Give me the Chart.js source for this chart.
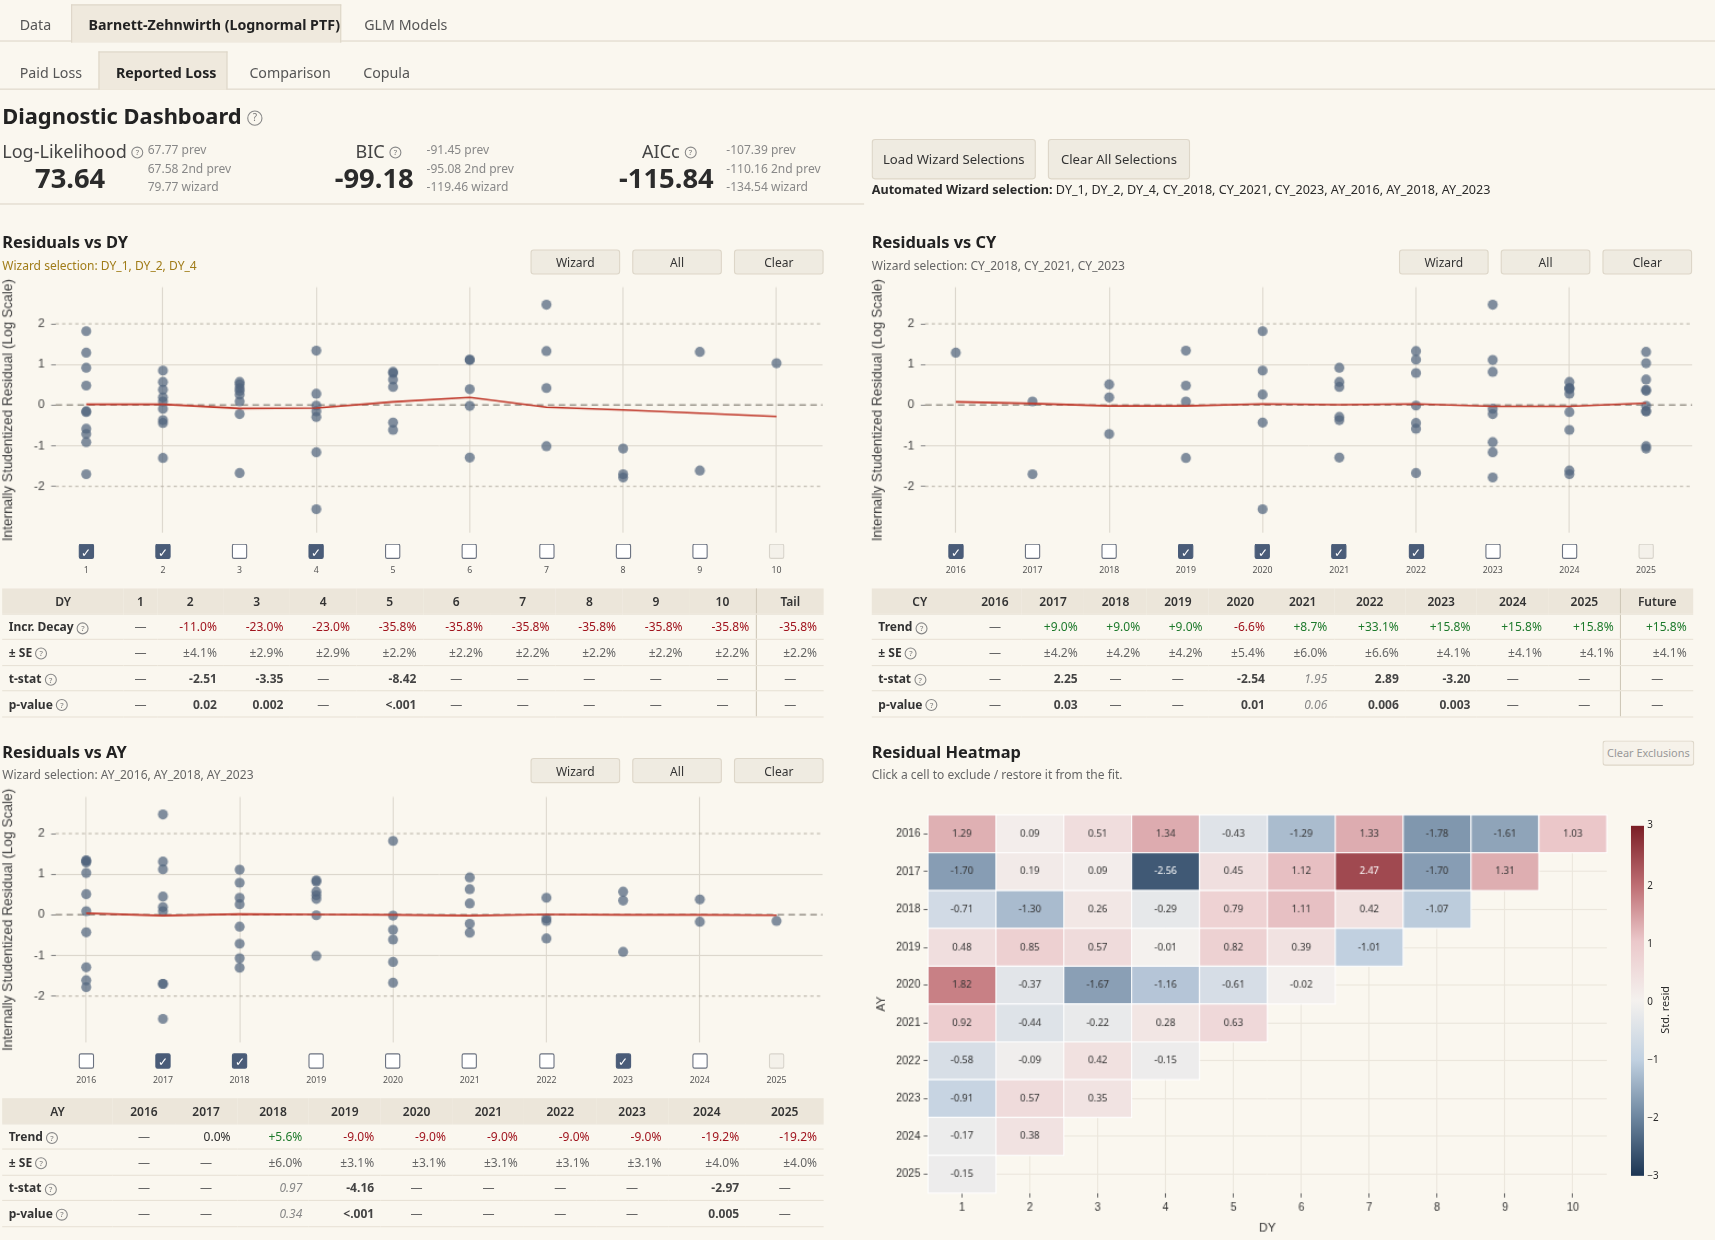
<!DOCTYPE html>
<html><head><meta charset="utf-8">
<script src="https://cdn.jsdelivr.net/npm/chart.js@4.4.0/dist/chart.umd.min.js"></script>
<style>
html,body{margin:0;padding:0;background:#faf7ef;overflow:hidden}
#root{position:absolute;left:0;top:0;width:1568px;height:1134px;transform:scale(1.0938);transform-origin:0 0;font-family:"Noto Sans","Open Sans",sans-serif;color:#2b2b2b}
.a{position:absolute}
.tab{position:absolute;font-size:13px;color:#555;padding:0}
.btn{position:absolute;background:#efebe1;border:1px solid #ddd6c8;border-radius:3px;font-size:11px;color:#333;text-align:center;line-height:21px;height:21px}
.h{font-weight:700;font-size:15px;color:#222}
.sub{font-size:11px;color:#666}
table{border-collapse:collapse;font-size:11px;position:absolute}
td,th{height:22.5px;padding:0 6px;text-align:right;border-bottom:1px solid #e8e2d6}
th{background:#ece6da;font-weight:600;text-align:center;color:#333}
td.l{text-align:left;font-weight:700;color:#333}
.r{color:#a0141e}.g{color:#1e7a2c}.m{color:#666}.it{font-style:italic;color:#888}.b{font-weight:700;color:#444}
.sep{border-left:1px solid #cfc8b8}
.cb{position:absolute;width:14px;height:14px;border:1px solid #6b7280;border-radius:2px;background:#fff;box-sizing:border-box}
.cb.on{background:#4a5c78;border-color:#4a5c78;color:#fff;font-size:11px;line-height:13px;text-align:center}
.cb.dis{border-color:#d8d4cb;background:#f4f1ea}
.cbl{position:absolute;font-size:8px;color:#555;width:30px;text-align:center}
.q{display:inline-block;width:9px;height:9px;border:1px solid #888;border-radius:50%;font-size:7px;line-height:9px;text-align:center;color:#777;vertical-align:middle;font-weight:400}
</style></head><body><div id="root">
<div class="a" style="left:0;top:37px;width:1568px;border-top:1px solid #ddd6c8"></div>
<div class="a" style="left:65px;top:4px;width:245px;height:34px;background:#efe9dd;border:1px solid #ddd6c8;border-bottom:none"></div>
<div class="tab" style="left:18px;top:13px">Data</div>
<div class="tab" style="left:81px;top:13px;font-weight:700;color:#222">Barnett-Zehnwirth (Lognormal PTF)</div>
<div class="tab" style="left:333px;top:13px">GLM Models</div>
<div class="a" style="left:0;top:81px;width:1568px;border-top:1px solid #ddd6c8"></div>
<div class="a" style="left:90px;top:47px;width:116px;height:34px;background:#efe9dd;border:1px solid #ddd6c8;border-bottom:none"></div>
<div class="tab" style="left:18px;top:57px">Paid Loss</div>
<div class="tab" style="left:106px;top:57px;font-weight:700;color:#222">Reported Loss</div>
<div class="tab" style="left:228px;top:57px">Comparison</div>
<div class="tab" style="left:332px;top:57px">Copula</div>
<div class="a" style="left:2px;top:92px;font-size:20px;font-weight:700;color:#222">Diagnostic Dashboard <span class="q" style="width:12px;height:12px;line-height:12px;font-size:9px">?</span></div>
<div class="a" style="left:2px;top:126px;font-size:16.5px;color:#444">Log-Likelihood <span class="q">?</span></div>
<div class="a" style="left:32px;top:145px;font-size:25px;font-weight:700">73.64</div>
<div class="a sub" style="left:135px;top:128px;line-height:17px;color:#888">67.77 prev<br>67.58 2nd prev<br>79.77 wizard</div>
<div class="a" style="left:325px;top:126px;font-size:16.5px;color:#444">BIC <span class="q">?</span></div>
<div class="a" style="left:306px;top:145px;font-size:25px;font-weight:700">-99.18</div>
<div class="a sub" style="left:390px;top:128px;line-height:17px;color:#888">-91.45 prev<br>-95.08 2nd prev<br>-119.46 wizard</div>
<div class="a" style="left:587px;top:126px;font-size:16.5px;color:#444">AICc <span class="q">?</span></div>
<div class="a" style="left:566px;top:145px;font-size:25px;font-weight:700">-115.84</div>
<div class="a sub" style="left:664px;top:128px;line-height:17px;color:#888">-107.39 prev<br>-110.16 2nd prev<br>-134.54 wizard</div>
<div class="a" style="left:0;top:186px;width:790px;border-top:1px solid #ddd6c8"></div>
<div class="btn" style="left:797px;top:127px;width:148px;height:35px;line-height:35px;font-size:12px">Load Wizard Selections</div>
<div class="btn" style="left:958px;top:127px;width:128px;height:35px;line-height:35px;font-size:12px">Clear All Selections</div>
<div class="a" style="left:797px;top:165px;font-size:11.5px"><b>Automated Wizard selection:</b> DY_1, DY_2, DY_4, CY_2018, CY_2021, CY_2023, AY_2016, AY_2018, AY_2023</div>

<div class="a h" style="left:2px;top:211px">Residuals vs DY</div>
<div class="a sub" style="left:2px;top:235px;color:#a07c18">Wizard selection: DY_1, DY_2, DY_4</div>
<div class="btn" style="left:485px;top:228px;width:80px">Wizard</div>
<div class="btn" style="left:578px;top:228px;width:80px">All</div>
<div class="btn" style="left:671px;top:228px;width:80px">Clear</div>
<canvas id="cDY" class="a" style="left:0;top:250px" width="760" height="250"></canvas>
<div id="kDY"></div>
<div class="a h" style="left:797px;top:211px">Residuals vs CY</div>
<div class="a sub" style="left:797px;top:235px">Wizard selection: CY_2018, CY_2021, CY_2023</div>
<div class="btn" style="left:1279px;top:228px;width:80px">Wizard</div>
<div class="btn" style="left:1372px;top:228px;width:80px">All</div>
<div class="btn" style="left:1465px;top:228px;width:80px">Clear</div>
<canvas id="cCY" class="a" style="left:795px;top:250px" width="760" height="250"></canvas>
<div id="kCY"></div>
<div class="a h" style="left:2px;top:677px">Residuals vs AY</div>
<div class="a sub" style="left:2px;top:700px">Wizard selection: AY_2016, AY_2018, AY_2023</div>
<div class="btn" style="left:485px;top:693px;width:80px">Wizard</div>
<div class="btn" style="left:578px;top:693px;width:80px">All</div>
<div class="btn" style="left:671px;top:693px;width:80px">Clear</div>
<canvas id="cAY" class="a" style="left:0;top:716px" width="760" height="250"></canvas>
<div id="kAY"></div>
<div class="a h" style="left:797px;top:677px">Residual Heatmap</div>
<div class="a sub" style="left:797px;top:700px">Click a cell to exclude / restore it from the fit.</div>
<div class="btn" style="left:1465px;top:677px;width:82px;color:#999;font-size:10px;background:#f6f2ea">Clear Exclusions</div>
<canvas id="cHM" class="a" style="left:795px;top:735px" width="700" height="399"></canvas>
<div class="a" style="left:1491px;top:755px;width:12px;height:320px;background:linear-gradient(to bottom,#7b1e25,#be6e73 17%,#ebc8ca 33%,#f4f1ee 50%,#c0d0e0 67%,#6e87a0 83%,#1c3553)"></div>
<div class="a" style="left:1506px;top:749px;font-size:9px;line-height:10px">3</div>
<div class="a" style="left:1506px;top:803px;font-size:9px">2</div>
<div class="a" style="left:1506px;top:856px;font-size:9px">1</div>
<div class="a" style="left:1506px;top:909px;font-size:9px">0</div>
<div class="a" style="left:1506px;top:962px;font-size:9px">−1</div>
<div class="a" style="left:1506px;top:1015px;font-size:9px">−2</div>
<div class="a" style="left:1506px;top:1068px;font-size:9px">−3</div>
<div class="a" style="font-size:10px;transform:rotate(-90deg);transform-origin:0 0;width:60px;top:945px;left:1515px">Std. resid</div>

<table id="tDY" style="left:2px;top:538px;width:751px"></table>
<table id="tCY" style="left:797px;top:538px;width:751px"></table>
<table id="tAY" style="left:2px;top:1004px;width:751px"></table>
</div>
<script>
const DYs=[1,2,3,4,5,6,7,8,9,10];
const AYs=[2016,2017,2018,2019,2020,2021,2022,2023,2024,2025];
const CYs=[2016,2017,2018,2019,2020,2021,2022,2023,2024,2025];
const resid2016=[1.29,0.09,0.51,1.34,-0.43,-1.29,1.33,-1.78,-1.61,1.03];
const resid2017=[-1.70,0.19,0.09,-2.56,0.45,1.12,2.47,-1.70,1.31];
const resid2018=[-0.71,-1.30,0.26,-0.29,0.79,1.11,0.42,-1.07];
const resid2019=[0.48,0.85,0.57,-0.01,0.82,0.39,-1.01];
const resid2020=[1.82,-0.37,-1.67,-1.16,-0.61,-0.02];
const resid2021=[0.92,-0.44,-0.22,0.28,0.63];
const resid2022=[-0.58,-0.09,0.42,-0.15];
const resid2023=[-0.91,0.57,0.35];
const resid2024=[-0.17,0.38];
const resid2025=[-0.15];
const residRows=[resid2016,resid2017,resid2018,resid2019,resid2020,resid2021,resid2022,resid2023,resid2024,resid2025];
const trendDY=[0.02,0.02,-0.08,-0.07,0.08,0.19,-0.05,-0.12,-0.20,-0.28];
const trendCY=[0.08,0.04,-0.02,-0.02,0.03,0.01,0.03,-0.03,-0.03,0.05];
const trendAY=[0.04,-0.02,0.02,0.01,0.00,-0.02,0.01,0.00,0.00,-0.01];
const selDY=[1,1,0,1,0,0,0,0,0,2];
const selCY=[1,0,0,1,1,1,1,0,0,2];
const selAY=[0,1,1,0,0,0,0,1,0,2];
const yTicks=[-2,-1,0,1,2];

const cells=[];
residRows.forEach((row,i)=>row.forEach((v,j)=>cells.push({ay:AYs[i],dy:DYs[j],cy:AYs[i]+DYs[j]-1,v})));

const refLines={id:'refLines',beforeDatasetsDraw(c){const ctx=c.ctx,y=c.scales.y,a=c.chartArea;ctx.save();
 [[2,'#b8b2a6',[3,3]],[-2,'#b8b2a6',[3,3]],[0,'#9a958c',[6,4]]].forEach(([v,col,d])=>{const p=y.getPixelForValue(v);ctx.strokeStyle=col;ctx.lineWidth=v===0?1.5:1;ctx.setLineDash(d);ctx.beginPath();ctx.moveTo(a.left,p);ctx.lineTo(a.right,p);ctx.stroke();});ctx.restore();}};

function scatter(id,key,xs,trend,gridTicks,xmin,xmax,sel,boxId,ox,oy){
 const pts=cells.map(c=>({x:c[key],y:c.v}));
 const ch=new Chart(document.getElementById(id),{type:'scatter',
  data:{datasets:[
   {type:'line',data:xs.map((x,i)=>({x,y:trend[i]})),borderColor:'#c0392b',borderWidth:1.6,pointRadius:0,order:0},
   {data:pts,backgroundColor:'rgba(80,100,125,0.72)',borderColor:'rgba(80,100,125,0.0)',pointRadius:4.6,order:1}]},
  options:{responsive:false,animation:false,plugins:{legend:{display:false},tooltip:{enabled:false}},
   layout:{padding:{left:0,right:8,top:12,bottom:8}},
   scales:{x:{type:'linear',min:xmin,max:xmax,afterBuildTicks:s=>{s.ticks=gridTicks.map(v=>({value:v}))},
      ticks:{display:false},grid:{color:'#dcd7cd',drawTicks:false},border:{display:false}},
    y:{min:-3.15,max:2.9,afterBuildTicks:s=>{s.ticks=yTicks.map(v=>({value:v}))},
      ticks:{color:'#444',font:{size:11},padding:6},
      grid:{color:c=>Math.abs(c.tick.value)===1?'#dcd7cd':'rgba(0,0,0,0)',drawTicks:true,tickLength:4,tickColor:'#888'},border:{display:false},
      title:{display:true,text:'Internally Studentized Residual (Log Scale)',color:'#444',font:{size:12.5},padding:{top:0,bottom:10}}}}},
  plugins:[refLines]});
 const box=document.getElementById(boxId);let h='';
 xs.forEach((x,i)=>{const px=ox+ch.scales.x.getPixelForValue(x);const s=sel[i];
  h+=`<div class="cb ${s===1?'on':''} ${s===2?'dis':''}" style="left:${px-7}px;top:${oy+247}px">${s===1?'✓':''}</div><div class="cbl" style="left:${px-15}px;top:${oy+265}px">${x}</div>`;});
 box.innerHTML=h;
}
scatter('cDY','dy',DYs,trendDY,[2,4,6,8,10],0.6,10.6,selDY,'kDY',0,250);
scatter('cCY','cy',CYs,trendCY,[2016,2018,2020,2022,2024],2015.6,2025.6,selCY,'kCY',795,250);
scatter('cAY','ay',AYs,trendAY,[2016,2018,2020,2022,2024],2015.6,2025.6,selAY,'kAY',0,716);

const stops=[[-3,[28,53,83]],[-2,[110,135,160]],[-1,[194,209,225]],[0,[244,241,238]],[1,[236,202,204]],[2,[192,112,118]],[3,[123,30,37]]];
function col(v){v=Math.max(-3,Math.min(3,v));for(let i=0;i<stops.length-1;i++){const[a,ca]=stops[i],[b,cb]=stops[i+1];if(v<=b){const t=(v-a)/(b-a);return 'rgb('+ca.map((c,k)=>Math.round(c+(cb[k]-c)*t)).join(',')+')';}}}
const cellPlug={id:'cellPlug',afterDatasetsDraw(c){const ctx=c.ctx,X=c.scales.x,Y=c.scales.y;ctx.save();
 cells.forEach(d=>{const x0=X.getPixelForValue(d.dy-0.5),x1=X.getPixelForValue(d.dy+0.5),y0=Y.getPixelForValue(d.ay-0.5),y1=Y.getPixelForValue(d.ay+0.5);
  ctx.fillStyle=col(d.v);ctx.fillRect(x0,y0,x1-x0,y1-y0);ctx.strokeStyle='#fff';ctx.lineWidth=1;ctx.strokeRect(x0,y0,x1-x0,y1-y0);
  ctx.fillStyle=Math.abs(d.v)>1.9?'#fff':'#333';ctx.font='9px "Noto Sans"';ctx.textAlign='center';ctx.textBaseline='middle';
  ctx.fillText(d.v.toFixed(2),(x0+x1)/2,(y0+y1)/2);});ctx.restore();}};
new Chart(document.getElementById('cHM'),{type:'scatter',data:{datasets:[{data:[]}]},
 options:{responsive:false,animation:false,plugins:{legend:{display:false}},layout:{padding:{left:0,right:26,top:10,bottom:0}},
  scales:{x:{type:'linear',min:0.5,max:10.5,afterBuildTicks:s=>{s.ticks=DYs.map(v=>({value:v}))},ticks:{color:'#333',font:{size:10}},
     grid:{color:'#ebe6dc',tickColor:'#666',tickLength:4},border:{display:false},title:{display:true,text:'DY',color:'#333',font:{size:11}}},
   y:{type:'linear',reverse:true,min:2015.5,max:2025.5,afterBuildTicks:s=>{s.ticks=AYs.map(v=>({value:v}))},ticks:{color:'#333',font:{size:10},callback:v=>String(v)},
     grid:{color:'#ebe6dc',tickColor:'#666',tickLength:4},border:{display:false},title:{display:true,text:'AY',color:'#333',font:{size:11}}}}},
 plugins:[cellPlug]});

function tbl(id,head,rows,sepIdx){let h='<tr>'+head.map((x,i)=>`<th class="${i===sepIdx?'sep':''}">${x}</th>`).join('')+'</tr>';
 rows.forEach(r=>{h+='<tr><td class="l">'+r[0]+' <span class="q">?</span></td>'+r.slice(1).map((v,i)=>{let c='';const s=String(v);
  if(s==='—')c='m';else if(s.startsWith('~'))c='it';else if(r[0].match(/Decay|Trend/))c=s.startsWith('-')?'r':(s.startsWith('+')?'g':'');else if(s.startsWith('±'))c='m';else c='b';
  return `<td class="${c} ${i+1===sepIdx?'sep':''}" style="${s==='—'?'text-align:center':''}">${s.replace('~','')}</td>`}).join('')+'</tr>';});
 document.getElementById(id).innerHTML=h;}
const dyHead=['DY','1','2','3','4','5','6','7','8','9','10','Tail'];
const dyDecay=['Incr. Decay','—','-11.0%','-23.0%','-23.0%','-35.8%','-35.8%','-35.8%','-35.8%','-35.8%','-35.8%','-35.8%'];
const dySE=['± SE','—','±4.1%','±2.9%','±2.9%','±2.2%','±2.2%','±2.2%','±2.2%','±2.2%','±2.2%','±2.2%'];
const dyT=['t-stat','—','-2.51','-3.35','—','-8.42','—','—','—','—','—','—'];
const dyP=['p-value','—','0.02','0.002','—','<.001','—','—','—','—','—','—'];
tbl('tDY',dyHead,[dyDecay,dySE,dyT,dyP],11);
const cyHead=['CY','2016','2017','2018','2019','2020','2021','2022','2023','2024','2025','Future'];
const cyTrend=['Trend','—','+9.0%','+9.0%','+9.0%','-6.6%','+8.7%','+33.1%','+15.8%','+15.8%','+15.8%','+15.8%'];
const cySE=['± SE','—','±4.2%','±4.2%','±4.2%','±5.4%','±6.0%','±6.6%','±4.1%','±4.1%','±4.1%','±4.1%'];
const cyT=['t-stat','—','2.25','—','—','-2.54','~1.95','2.89','-3.20','—','—','—'];
const cyP=['p-value','—','0.03','—','—','0.01','~0.06','0.006','0.003','—','—','—'];
tbl('tCY',cyHead,[cyTrend,cySE,cyT,cyP],11);
const ayHead=['AY','2016','2017','2018','2019','2020','2021','2022','2023','2024','2025'];
const ayTrend=['Trend','—','0.0%','+5.6%','-9.0%','-9.0%','-9.0%','-9.0%','-9.0%','-19.2%','-19.2%'];
const aySE=['± SE','—','—','±6.0%','±3.1%','±3.1%','±3.1%','±3.1%','±3.1%','±4.0%','±4.0%'];
const ayT=['t-stat','—','—','~0.97','-4.16','—','—','—','—','-2.97','—'];
const ayP=['p-value','—','—','~0.34','<.001','—','—','—','—','0.005','—'];
tbl('tAY',ayHead,[ayTrend,aySE,ayT,ayP],-1);
</script></body></html>
